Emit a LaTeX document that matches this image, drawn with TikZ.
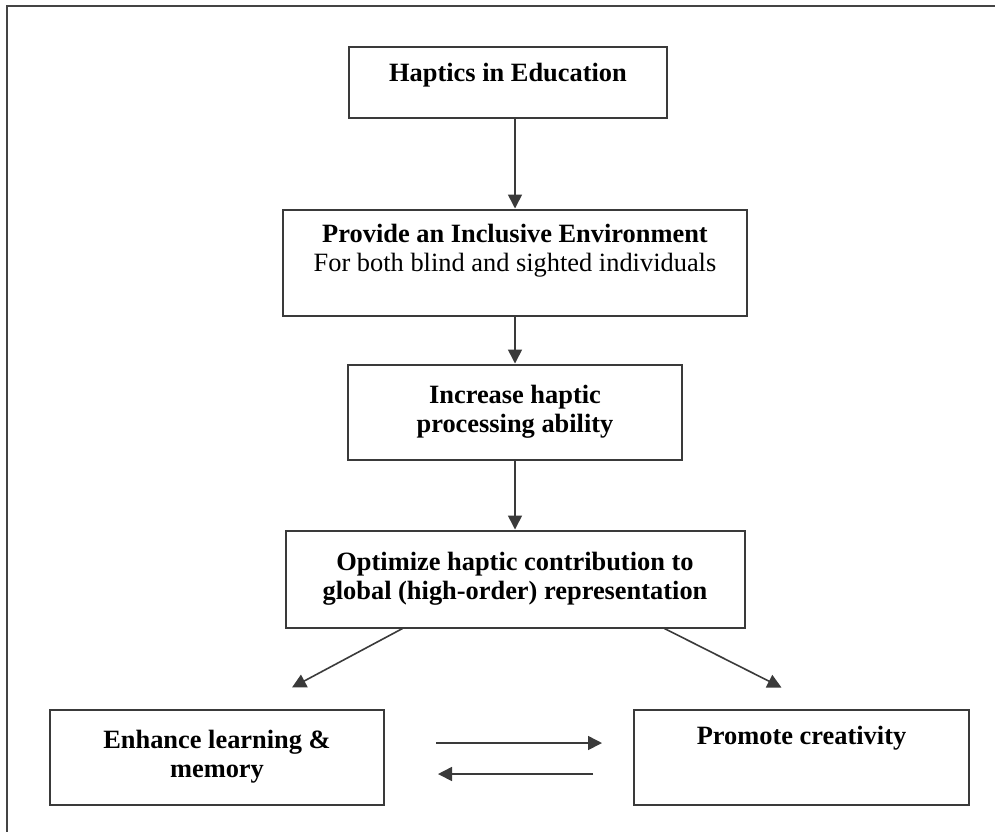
\documentclass[tikz,border=0pt]{standalone}
\usepackage{fontspec}
\setmainfont{Liberation Serif}
\usepackage{xcolor}
\usetikzlibrary{positioning,arrows.meta,calc}
\definecolor{edge}{HTML}{3A3A3A}
\definecolor{frame}{HTML}{444444}

\begin{document}
\begin{tikzpicture}[x=0.5pt,y=-0.5pt,>={Triangle[length=7pt,width=7pt]},
  b/.style={draw=edge,line width=1pt,align=center,inner sep=0pt,font=\fontsize{13.2}{14.5}\selectfont\bfseries},
  ln/.style={->,draw=edge,line width=0.8pt}]
\useasboundingbox (0,0) rectangle (995,832);
\draw[frame,line width=1.3pt] (995,6) -- (7,6) -- (7,832);
\node[b,minimum width=159pt,minimum height=35.5pt] (hap) at (508,82) {Haptics in Education\\[-5pt]~};
\node[b,minimum width=232pt,minimum height=53pt,below=45pt of hap,xshift=3.5pt] (prov) {Provide an Inclusive Environment\\\mdseries For both blind and sighted individuals\\~};
\node[b,minimum width=167pt,minimum height=47.5pt,below=23.5pt of prov] (inc) {Increase haptic\\processing ability};
\node[b,minimum width=229.5pt,minimum height=48.5pt,below=34.5pt of inc] (opt) {Optimize haptic contribution to\\global (high-order) representation};
\node[b,minimum width=167pt,minimum height=47.5pt,below=40pt of opt,xshift=-149pt] (enh) {Enhance learning \&\\memory};
\node[b,minimum width=167.5pt,minimum height=47.5pt,right=124pt of enh] (pro) {Promote creativity\\[7pt]~};
% flow down
\draw[ln] (prov.north |- hap.south) -- (prov.north);
\draw[ln] (prov) -- (inc);
\draw[ln] (inc) -- (opt);
% split to outcomes
\coordinate (l0) at ($(opt.south west)+(118,0)$);
\coordinate (l1) at ($(enh.north)+(75,-21)$);
\coordinate (r0) at ($(opt.south east)+(-81,0)$);
\coordinate (r1) at ($(pro.north)+(-20,-21)$);
\draw[ln] (l0) -- (l1);
\draw[ln] (r0) -- (r1);
% two-way link
\coordinate (a0) at ($(enh.east)+(51,-14)$);
\coordinate (a1) at ($(pro.west)+(-31,-14)$);
\coordinate (c0) at ($(pro.west)+(-40,17)$);
\coordinate (c1) at ($(enh.east)+(53,17)$);
\draw[ln] (a0) -- (a1);
\draw[ln] (c0) -- (c1);
\end{tikzpicture}
\end{document}
